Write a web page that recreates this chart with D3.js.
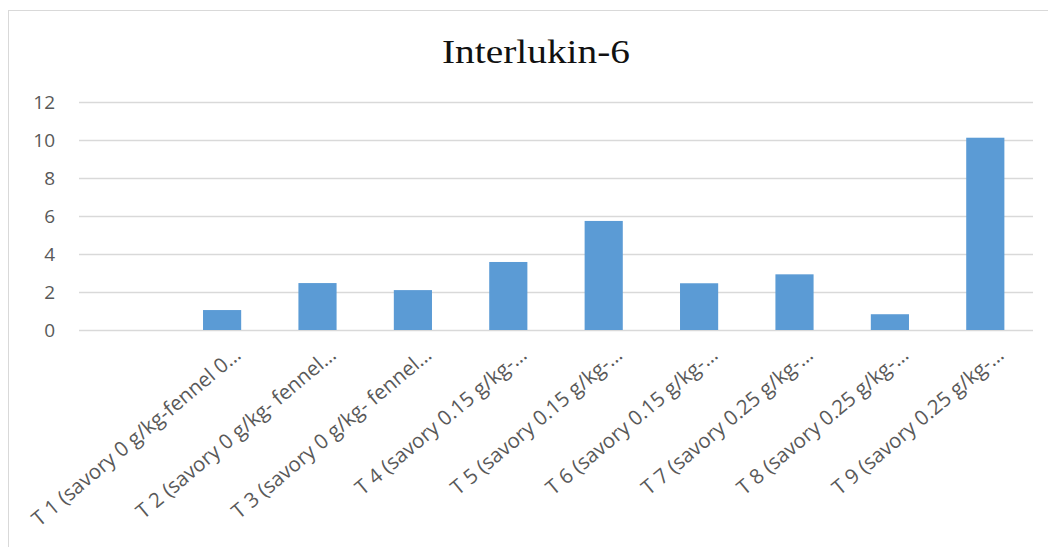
<!DOCTYPE html>
<html>
<head>
<meta charset="utf-8">
<script src="https://cdn.jsdelivr.net/npm/d3@7"></script>
<style>
  body { margin: 0; background: #fff; }
  svg { display: block; }
</style>
</head>
<body>
<svg id="chart" width="1048" height="547"></svg>
<script>
// data; first slot is empty in the original
const categories = ["", "T 1 (savory 0 g/kg-fennel 0…", "T 2 (savory 0 g/kg- fennel…",
    "T 3 (savory 0 g/kg- fennel…", "T 4 (savory 0.15 g/kg-…", "T 5 (savory 0.15 g/kg-…",
    "T 6 (savory 0.15 g/kg-…", "T 7 (savory 0.25 g/kg-…", "T 8 (savory 0.25 g/kg-…",
    "T 9 (savory 0.25 g/kg-…"];
const values = [null, 1.05, 2.47, 2.1, 3.58, 5.74, 2.46, 2.93, 0.83, 10.12];
const yTicks = [0, 2, 4, 6, 8, 10, 12];
const title = "Interlukin-6";

const svg = d3.select("#chart");
const margin = { left: 79, right: 15, top: 102, bottom: 217 };
const W = 1048, H = 547;

// chart area frame
svg.append("rect")
    .attr("x", 8.5).attr("y", 10.5)
    .attr("width", 1100).attr("height", 600)
    .attr("fill", "none")
    .attr("stroke", "#d9d9d9");

const x = d3.scaleBand()
    .domain(d3.range(categories.length))
    .range([margin.left, W - margin.right])
    .paddingInner(0.6)
    .paddingOuter(0.3);

const y = d3.scaleLinear()
    .domain([0, 12])
    .range([H - margin.bottom, margin.top]);

svg.append("text")
    .attr("x", 536).attr("y", 63)
    .attr("text-anchor", "middle")
    .attr("font-family", "Liberation Serif, serif")
    .attr("font-size", 34)
    .attr("textLength", 188)
    .attr("lengthAdjust", "spacingAndGlyphs")
    .attr("fill", "#111")
    .text(title);

// gridlines + y labels
const yAxis = d3.axisLeft(y)
    .tickValues(yTicks)
    .tickSize(-(W - margin.right - margin.left))
    .tickPadding(24);

svg.append("g")
    .attr("transform", `translate(${margin.left},0)`)
    .call(yAxis)
    .call(g => g.select(".domain").remove())
    .call(g => g.selectAll("line").attr("stroke", "#d9d9d9").attr("stroke-width", 1.5))
    .call(g => g.selectAll("text")
        .attr("font-family", "Open Sans, sans-serif")
        .attr("font-size", 19)
        .attr("fill", "#595959"));

// bars
svg.append("g").selectAll("rect")
    .data(values.map((v, i) => ({ i, v })).filter(d => d.v != null))
    .join("rect")
    .attr("x", d => x(d.i))
    .attr("y", d => y(d.v))
    .attr("width", x.bandwidth())
    .attr("height", d => y(0) - y(d.v))
    .attr("fill", "#5b9bd5");

// category labels, rotated
const xAxis = d3.axisBottom(x)
    .tickFormat(i => categories[i])
    .tickSize(0)
    .tickPadding(0);

svg.append("g")
    .attr("transform", `translate(0,${y(0)})`)
    .call(xAxis)
    .call(g => g.select(".domain").remove())
    .call(g => g.selectAll("text")
        .attr("font-family", "Open Sans, sans-serif")
        .attr("font-size", 20.5)
        .attr("fill", "#595959")
        .attr("text-anchor", "end")
        .attr("dy", 0)
        .attr("transform", "translate(20,27) rotate(-40)"));
</script>
</body>
</html>
